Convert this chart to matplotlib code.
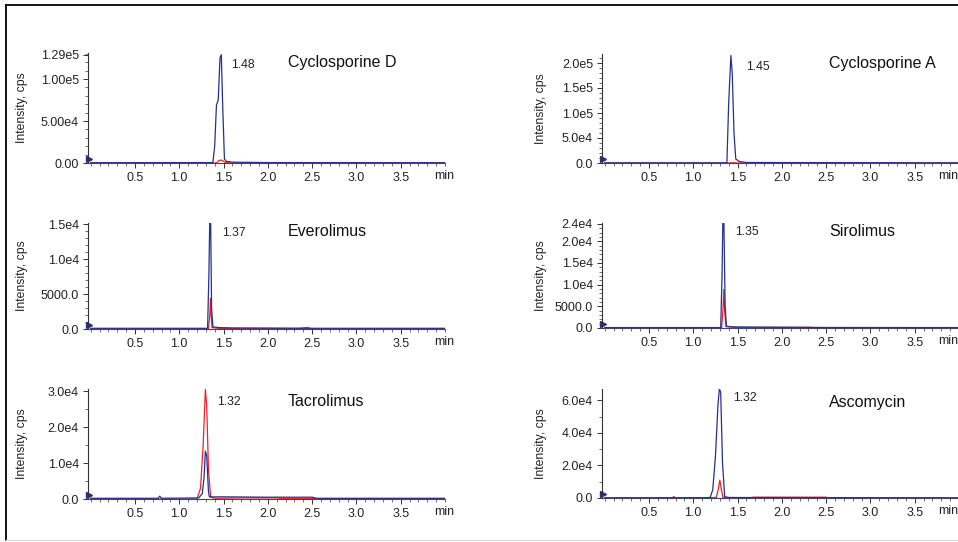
import matplotlib
matplotlib.use("Agg")
import matplotlib.pyplot as plt
from matplotlib.ticker import MultipleLocator, FixedLocator, FixedFormatter
from matplotlib.lines import Line2D

plt.rcParams["font.family"] = ["Liberation Sans", "DejaVu Sans"]

BLUE = "#25308f"
RED = "#e8232b"

# Cyclosporine D
cyd_t_blue = [0.0, 1.38, 1.40, 1.42, 1.44, 1.46, 1.475, 1.49, 1.51, 1.53, 1.60, 2.0, 4.0]
cyd_blue = [300, 500, 2.0e4, 6.9e4, 7.5e4, 1.25e5, 1.29e5, 7.0e4, 5.0e3, 2.0e3, 1.0e3, 500, 300]
cyd_t_red = [0.0, 1.42, 1.45, 1.48, 1.52, 1.60, 4.0]
cyd_red = [0, 0, 3000, 3500, 500, 0, 0]

# Cyclosporine A
cya_t_blue = [0.0, 1.38, 1.40, 1.425, 1.44, 1.46, 1.48, 1.52, 1.60, 4.0]
cya_blue = [300, 300, 1.2e5, 2.15e5, 1.8e5, 6.0e4, 8.0e3, 3.0e3, 1.0e3, 300]
cya_t_red = [0.0, 1.40, 1.45, 1.50, 4.0]
cya_red = [0, 0, 600, 0, 0]

# Everolimus
eve_t_blue = [0.0, 1.32, 1.335, 1.345, 1.355, 1.365, 1.38, 1.45, 1.60, 2.5, 4.0]
eve_blue = [100, 100, 8.0e3, 1.6e4, 1.5e4, 3.0e3, 300, 200, 150, 100, 100]
eve_t_red = [0.0, 1.33, 1.345, 1.352, 1.36, 1.37, 1.45, 2.35, 2.45, 2.5, 4.0]
eve_red = [0, 0, 2000, 4400, 2000, 200, 80, 80, 220, 0, 0]

# Sirolimus
sir_t_blue = [0.0, 1.31, 1.325, 1.335, 1.345, 1.36, 1.375, 1.45, 2.5, 4.0]
sir_blue = [100, 100, 1.2e4, 2.6e4, 2.6e4, 5.0e3, 400, 250, 120, 100]
sir_t_red = [0.0, 1.32, 1.335, 1.345, 1.355, 1.37, 1.5, 2.3, 2.5, 4.0]
sir_red = [0, 0, 4000, 8900, 4000, 300, 100, 150, 0, 0]

# Tacrolimus
tac_t_blue = [0.0, 0.76, 0.78, 0.80, 1.22, 1.26, 1.28, 1.295, 1.31, 1.33, 1.34, 1.5, 2.0, 2.5, 2.55, 4.0]
tac_blue = [200, 200, 800, 200, 300, 1.5e3, 6.0e3, 1.33e4, 1.2e4, 2.0e3, 600, 600, 500, 500, 200, 200]
tac_t_red = [0.0, 1.20, 1.24, 1.27, 1.295, 1.31, 1.33, 1.355, 1.40, 1.70, 2.10, 2.20, 4.0]
tac_red = [0, 0, 3.0e3, 1.5e4, 3.05e4, 2.6e4, 8.0e3, 500, 200, 300, 300, 100, 100]

# Ascomycin
asc_t_blue = [0.0, 1.19, 1.22, 1.25, 1.28, 1.295, 1.31, 1.33, 1.355, 1.40, 4.0]
asc_blue = [100, 200, 5.0e3, 2.5e4, 5.8e4, 6.7e4, 6.5e4, 2.2e4, 800, 300, 100]
asc_t_red = [0.0, 0.76, 0.78, 0.80, 1.26, 1.285, 1.30, 1.315, 1.335, 1.65, 1.68, 2.5, 2.52, 4.0]
asc_red = [0, 0, 900, 0, 300, 6.0e3, 1.1e4, 6.0e3, 300, 200, 500, 500, 0, 0]

x_ticks = [0.5, 1.0, 1.5, 2.0, 2.5, 3.0, 3.5]
x_tick_labels = ["0.5", "1.0", "1.5", "2.0", "2.5", "3.0", "3.5"]

panels = [
    # name, rt, blue t, blue y, red t, red y, y ticks, y labels, ymax, minor, box px (l, top, w, h), rt pos, name pos
    ("Cyclosporine D", "1.48", cyd_t_blue, cyd_blue, cyd_t_red, cyd_red,
     [0, 5e4, 1e5, 1.29e5], ["0.00", "5.00e4", "1.00e5", "1.29e5"], 1.31e5, 1e4,
     (88, 53, 357, 110), (0.40, 0.89), (0.56, 0.91)),
    ("Cyclosporine A", "1.45", cya_t_blue, cya_blue, cya_t_red, cya_red,
     [0, 5e4, 1e5, 1.5e5, 2e5], ["0.0", "5.0e4", "1.0e5", "1.5e5", "2.0e5"], 2.18e5, 1e4,
     (602, 54, 357, 109), (0.405, 0.88), (0.637, 0.91)),
    ("Everolimus", "1.37", eve_t_blue, eve_blue, eve_t_red, eve_red,
     [0, 5000, 1e4, 1.5e4], ["0.0", "5000.0", "1.0e4", "1.5e4"], 1.52e4, 1000,
     (88, 223, 357, 106), (0.377, 0.905), (0.56, 0.92)),
    ("Sirolimus", "1.35", sir_t_blue, sir_blue, sir_t_red, sir_red,
     [0, 5000, 1e4, 1.5e4, 2e4, 2.4e4], ["0.0", "5000.0", "1.0e4", "1.5e4", "2.0e4", "2.4e4"], 2.42e4, 1000,
     (602, 223, 357, 105), (0.374, 0.91), (0.637, 0.92)),
    ("Tacrolimus", "1.32", tac_t_blue, tac_blue, tac_t_red, tac_red,
     [0, 1e4, 2e4, 3e4], ["0.0", "1.0e4", "2.0e4", "3.0e4"], 3.06e4, 5000,
     (88, 389, 357, 110), (0.363, 0.88), (0.56, 0.89)),
    ("Ascomycin", "1.32", asc_t_blue, asc_blue, asc_t_red, asc_red,
     [0, 2e4, 4e4, 6e4], ["0.0", "2.0e4", "4.0e4", "6.0e4"], 6.7e4, 1e4,
     (602, 389, 357, 109), (0.366, 0.92), (0.637, 0.88)),
]

W, H = 958, 542
fig = plt.figure(figsize=(W / 100, H / 100), dpi=100)
fig.patch.set_facecolor("white")

# outer frame
fig.add_artist(Line2D([6 / W, 6 / W], [2 / H, 1 - 5 / H], color="black", lw=1.3))
fig.add_artist(Line2D([6 / W, 1.0], [1 - 5 / H, 1 - 5 / H], color="black", lw=1.3))
fig.add_artist(Line2D([6 / W, 1.0], [2 / H, 2 / H], color="#dddddd", lw=1.0))

for (name, rt, tb, yb, tr, yr, yticks, ylabels, ymax, minor, box, rtpos, namepos) in panels:
    l, top, w, h = box
    right_col = l > 400
    ax = fig.add_axes([l / W, 1 - (top + h) / H, w / W, h / H])
    ax.plot(tr, yr, color=RED, lw=0.9)
    ax.plot(tb, yb, color=BLUE, lw=0.9)
    ax.set_xlim(-0.03, 4.0)
    ax.set_ylim(0, ymax)

    for s in ["top", "right"]:
        ax.spines[s].set_visible(False)
    ax.spines["left"].set_color("#333333")
    ax.spines["bottom"].set_color("#444466")
    ax.spines["left"].set_linewidth(0.8)
    ax.spines["bottom"].set_linewidth(0.8)

    ax.xaxis.set_major_locator(FixedLocator(x_ticks))
    ax.xaxis.set_major_formatter(FixedFormatter(x_tick_labels))
    ax.xaxis.set_minor_locator(MultipleLocator(0.1))
    ax.yaxis.set_major_locator(FixedLocator(yticks))
    ax.yaxis.set_major_formatter(FixedFormatter(ylabels))
    ax.yaxis.set_minor_locator(MultipleLocator(minor))
    ax.tick_params(axis="both", which="major", length=3.5, width=0.7, labelsize=9,
                   colors="#333333", labelcolor="#222222", pad=3)
    ax.tick_params(axis="both", which="minor", length=2, width=0.5, colors="#333333")

    ax.set_ylabel("Intensity, cps", fontsize=8.8, color="#222222")
    ax.yaxis.set_label_coords(-0.154 if right_col else -0.168, 0.5)

    ax.annotate("min", xy=(3.76 if right_col else 3.88, 0),
                xycoords=("data", "axes fraction"), xytext=(0, -9.5),
                textcoords="offset points", fontsize=9, color="#222222",
                ha="left", va="center", annotation_clip=False)
    ax.text(rtpos[0], rtpos[1], rt, transform=ax.transAxes, fontsize=8.8,
            color="#222222", ha="left", va="center")
    ax.text(namepos[0], namepos[1], name, transform=ax.transAxes, fontsize=11.5,
            color="#111111", ha="left", va="center")

    # baseline marker at the start of the trace
    ax.plot([0.004], [0.035], marker=">", color=BLUE, markersize=4.5,
            transform=ax.transAxes, clip_on=False)

fig.savefig("out.png", dpi=100)
